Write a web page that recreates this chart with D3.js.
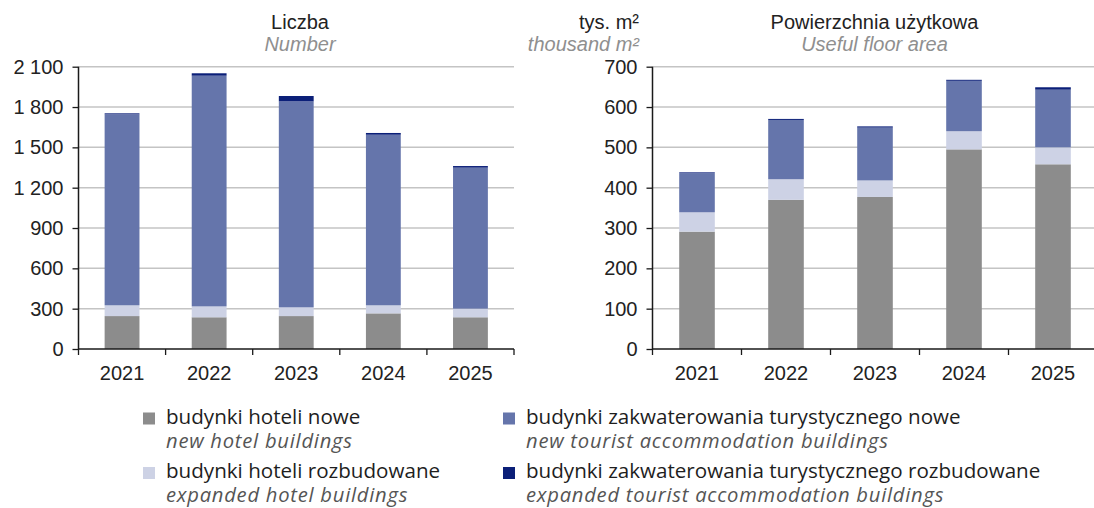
<!DOCTYPE html>
<html>
<head>
<meta charset="utf-8">
<script src="https://cdn.jsdelivr.net/npm/d3@7"></script>
<style>
  body { margin: 0; background: #fff; }
  svg { display: block; }
</style>
</head>
<body>
<div id="chart"></div>
<script>
// data
const years = ["2021", "2022", "2023", "2024", "2025"];

// number of buildings
const countHotelNew = [245, 236, 245, 265, 236];
const countHotelExp = [80, 81, 65, 60, 64];
const countTouristNew = [1421, 1716, 1532, 1269, 1049];
const countTouristExp = [7, 18, 40, 13, 12];
const countTicks = [0, 300, 600, 900, 1200, 1500, 1800, 2100];

// useful floor area, thousand m2
const areaHotelNew = [291, 370, 377, 495, 458];
const areaHotelExp = [48, 51, 41, 45, 42];
const areaTouristNew = [97, 147, 131, 125, 143];
const areaTouristExp = [2, 2.5, 3, 2.5, 6];
const areaTicks = [0, 100, 200, 300, 400, 500, 600, 700];

const seriesKeys = ["hotelNew", "hotelExp", "touristNew", "touristExp"];
const seriesColors = ["#8c8c8c", "#cdd2e5", "#6575ab", "#0b1f78"];
const legendPl = [
    "budynki hoteli nowe",
    "budynki hoteli rozbudowane",
    "budynki zakwaterowania turystycznego nowe",
    "budynki zakwaterowania turystycznego rozbudowane"
];
const legendEn = [
    "new hotel buildings",
    "expanded hotel buildings",
    "new tourist accommodation buildings",
    "expanded tourist accommodation buildings"
];

const width = 1094, height = 508;
const plotTop = 66.7, plotBottom = 349;
const labelFont = "Liberation Sans, Arial, sans-serif";

const pl = d3.formatLocale({ decimal: ",", thousands: "\u00a0", grouping: [3], currency: ["", ""] });
const fmt = pl.format(",d");

const svg = d3.select("#chart").append("svg")
    .attr("width", width)
    .attr("height", height);

function rows(a, b, c, d) {
    return years.map((y, i) => ({ year: y, hotelNew: a[i], hotelExp: b[i], touristNew: c[i], touristExp: d[i] }));
}

function drawPanel(data, ticks, x0, x1) {
    const g = svg.append("g");
    const x = d3.scaleBand().domain(years).range([x0, x1]).padding(0);
    const y = d3.scaleLinear().domain([0, ticks[ticks.length - 1]]).range([plotBottom, plotTop]);

    // grid
    g.append("g").selectAll("line")
        .data(ticks.slice(1))
        .join("line")
        .attr("x1", x0).attr("x2", x1)
        .attr("y1", d => y(d)).attr("y2", d => y(d))
        .attr("stroke", "#c4c4c4")
        .attr("stroke-width", 1.5);

    const stacked = d3.stack().keys(seriesKeys)(data);
    const bw = x.bandwidth() * 0.4;

    g.append("g").selectAll("g")
        .data(stacked)
        .join("g")
        .attr("fill", (d, i) => seriesColors[i])
        .selectAll("rect")
        .data(d => d)
        .join("rect")
        .attr("x", d => x(d.data.year) + (x.bandwidth() - bw) / 2)
        .attr("width", bw)
        .attr("y", d => y(d[1]))
        .attr("height", d => y(d[0]) - y(d[1]));

    // y axis
    const yAxis = d3.axisLeft(y).tickValues(ticks).tickFormat(fmt).tickSize(6).tickPadding(9);
    const ya = g.append("g").attr("transform", `translate(${x0},0)`).call(yAxis);
    ya.select(".domain").attr("stroke", "#1a1a1a").attr("stroke-width", 1.5).attr("d", `M0,${plotTop}V${plotBottom}`);
    ya.selectAll(".tick line").attr("stroke", "#1a1a1a").attr("stroke-width", 1.3);
    ya.selectAll("text")
        .attr("font-family", labelFont)
        .attr("font-size", 20)
        .attr("fill", "#222");

    // x axis: line with ticks at band boundaries, labels at band centres
    const xa = g.append("g");
    xa.append("line")
        .attr("x1", x0).attr("x2", x1)
        .attr("y1", plotBottom).attr("y2", plotBottom)
        .attr("stroke", "#1a1a1a").attr("stroke-width", 1.5);
    const edges = years.map(d => x(d)).concat([x1]);
    xa.selectAll(".edge")
        .data(edges)
        .join("line")
        .attr("class", "edge")
        .attr("x1", d => d).attr("x2", d => d)
        .attr("y1", plotBottom).attr("y2", plotBottom + 6)
        .attr("stroke", "#1a1a1a").attr("stroke-width", 1.3);
    xa.selectAll("text")
        .data(years)
        .join("text")
        .attr("x", d => x(d) + x.bandwidth() / 2)
        .attr("y", 380)
        .attr("text-anchor", "middle")
        .attr("font-family", labelFont)
        .attr("font-size", 20)
        .attr("fill", "#222")
        .text(d => d);
}

drawPanel(rows(countHotelNew, countHotelExp, countTouristNew, countTouristExp), countTicks, 78.5, 514);
drawPanel(rows(areaHotelNew, areaHotelExp, areaTouristNew, areaTouristExp), areaTicks, 652.5, 1097.5);

// panel titles
function title(txt, x, y, anchor, italic) {
    const t = svg.append("text")
        .attr("x", x).attr("y", y)
        .attr("text-anchor", anchor)
        .attr("font-family", labelFont)
        .attr("font-size", 20)
        .attr("fill", italic ? "#8f8f8f" : "#222")
        .attr("font-style", italic ? "italic" : "normal");
    return t.text(txt);
}
title("Liczba", 300, 29, "middle", false);
title("Number", 300, 51, "middle", true);
title("tys. m\u00b2", 639, 29, "end", false);
title("thousand m\u00b2", 639, 51, "end", true);
title("Powierzchnia użytkowa", 874.5, 29, "middle", false);
title("Useful floor area", 874.5, 51, "middle", true);

// legend, two columns
const legendPos = [
    { x: 143, y: 423.5 },
    { x: 143, y: 478 },
    { x: 503, y: 423.5 },
    { x: 503, y: 478 }
];
const lg = svg.append("g").selectAll("g")
    .data(seriesKeys)
    .join("g")
    .attr("transform", (d, i) => `translate(${legendPos[i].x},${legendPos[i].y})`);
lg.append("rect")
    .attr("x", 0).attr("y", -11)
    .attr("width", 12).attr("height", 12)
    .attr("fill", (d, i) => seriesColors[i]);
lg.append("text")
    .attr("x", 23).attr("y", 0)
    .attr("font-family", "Open Sans, sans-serif")
    .attr("font-size", 20.6)
    .attr("fill", "#1e1e1e")
    .text((d, i) => legendPl[i]);
lg.append("text")
    .attr("x", 23).attr("y", 24)
    .attr("font-family", "Open Sans, sans-serif")
    .attr("font-size", 20.2)
    .attr("letter-spacing", 0.75)
    .attr("font-style", "italic")
    .attr("fill", "#555")
    .text((d, i) => legendEn[i]);
</script>
</body>
</html>
